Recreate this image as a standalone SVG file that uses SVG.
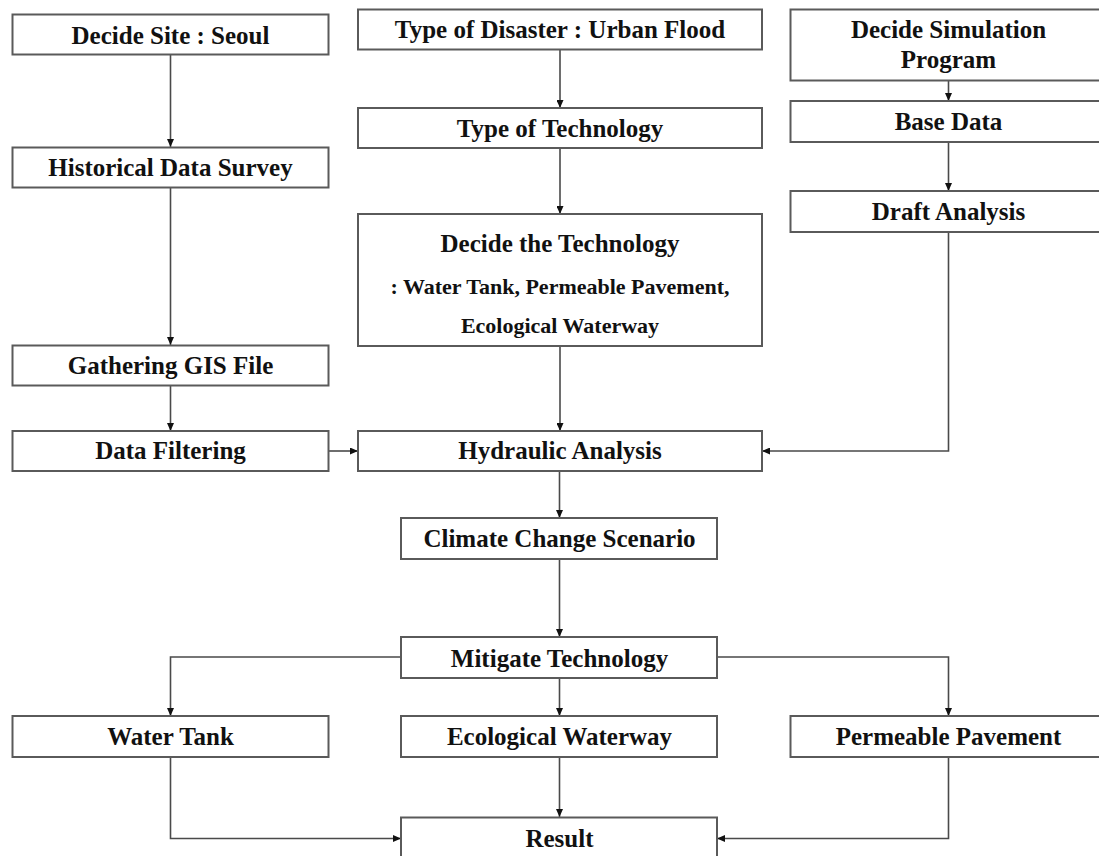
<svg xmlns="http://www.w3.org/2000/svg" width="1099" height="856" viewBox="0 0 1099 856">
<defs>
<marker id="arr" markerWidth="8" markerHeight="7" refX="8" refY="3.5" orient="auto" markerUnits="userSpaceOnUse">
<path d="M0,0 L8,3.5 L0,7 z" fill="#111"/>
</marker>
<style>
.box{fill:#fff;stroke:#5a5a5a;stroke-width:2}
.t{font-family:"Liberation Serif","Times New Roman",serif;font-weight:bold;font-size:25px;fill:#111;text-anchor:middle}
.s{font-size:22px}
.c{fill:none;stroke:#4a4a4a;stroke-width:1.6;marker-end:url(#arr)}
</style>
</defs>
<rect width="1099" height="856" fill="#fff"/>
<g id="connectors">
<path class="c" d="M170.5,54.5 V147"/>
<path class="c" d="M170.5,188 V345"/>
<path class="c" d="M170.5,386 V431"/>
<path class="c" d="M328,451 H358"/>
<path class="c" d="M560,49 V108"/>
<path class="c" d="M560,148 V214"/>
<path class="c" d="M560,346 V431"/>
<path class="c" d="M948.5,80 V101"/>
<path class="c" d="M948.5,142 V191"/>
<path class="c" d="M948.5,232 V451 H762"/>
<path class="c" d="M559.5,471 V518"/>
<path class="c" d="M559.5,559 V637"/>
<path class="c" d="M401,657 H170.5 V716"/>
<path class="c" d="M559.5,678 V716"/>
<path class="c" d="M717,657 H948.5 V716"/>
<path class="c" d="M170.5,757 V838.5 H401"/>
<path class="c" d="M559.5,757 V817"/>
<path class="c" d="M948.5,757 V838.5 H717"/>
</g>
<g id="n-site"><rect class="box" x="12.5" y="14.5" width="316" height="40"/><text class="t" x="170.5" y="44">Decide Site : Seoul</text></g>
<g id="n-historical"><rect class="box" x="12.5" y="147.5" width="316" height="40"/><text class="t" x="170.5" y="176">Historical Data Survey</text></g>
<g id="n-gathering"><rect class="box" x="12.5" y="345.5" width="316" height="40"/><text class="t" x="170.5" y="373.5">Gathering GIS File</text></g>
<g id="n-filtering"><rect class="box" x="12.5" y="431" width="316" height="40"/><text class="t" x="170.5" y="459">Data Filtering</text></g>
<g id="n-disaster"><rect class="box" x="358" y="9.5" width="404" height="40"/><text class="t" x="560" y="38">Type of Disaster : Urban Flood</text></g>
<g id="n-typetech"><rect class="box" x="358" y="108" width="404" height="40"/><text class="t" x="560" y="137">Type of Technology</text></g>
<g id="n-decidetech"><rect class="box" x="358" y="214" width="404" height="132"/><text class="t" x="560" y="251.5">Decide the Technology</text><text class="t s" x="560" y="294">: Water Tank, Permeable Pavement,</text><text class="t s" x="560" y="333">Ecological Waterway</text></g>
<g id="n-hydraulic"><rect class="box" x="358" y="431" width="404" height="40"/><text class="t" x="560" y="459">Hydraulic Analysis</text></g>
<g id="n-simulation"><rect class="box" x="790.5" y="9.5" width="317" height="71"/><text class="t" x="948.5" y="38">Decide Simulation</text><text class="t" x="948.5" y="68">Program</text></g>
<g id="n-base"><rect class="box" x="790.5" y="101" width="317" height="41"/><text class="t" x="948.5" y="130">Base Data</text></g>
<g id="n-draft"><rect class="box" x="790.5" y="191" width="317" height="41"/><text class="t" x="948.5" y="219.5">Draft Analysis</text></g>
<g id="n-climate"><rect class="box" x="401" y="518" width="316" height="41"/><text class="t" x="559.5" y="547">Climate Change Scenario</text></g>
<g id="n-mitigate"><rect class="box" x="401" y="637" width="316" height="41"/><text class="t" x="559.5" y="666.5">Mitigate Technology</text></g>
<g id="n-watertank"><rect class="box" x="12.5" y="716" width="316" height="41"/><text class="t" x="170.5" y="745">Water Tank</text></g>
<g id="n-ecological"><rect class="box" x="401" y="716" width="316" height="41"/><text class="t" x="559.5" y="745">Ecological Waterway</text></g>
<g id="n-permeable"><rect class="box" x="790.5" y="716" width="317" height="41"/><text class="t" x="948.5" y="745">Permeable Pavement</text></g>
<g id="n-result"><rect class="box" x="401" y="817.5" width="316" height="50"/><text class="t" x="559.5" y="847">Result</text></g>
</svg>
